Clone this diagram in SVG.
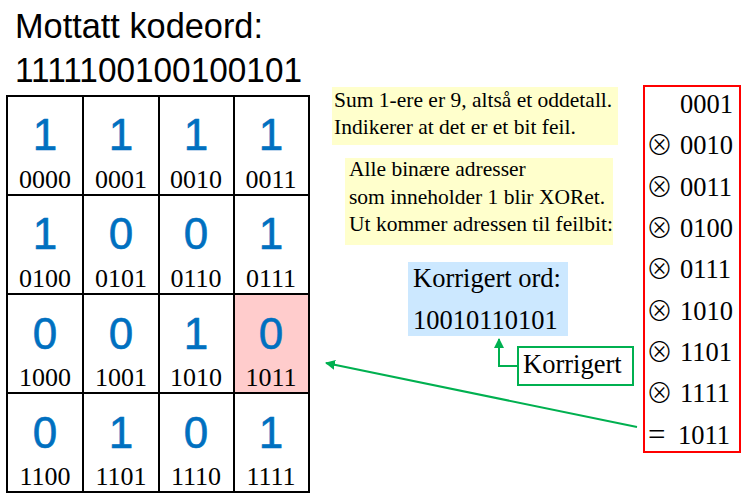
<svg xmlns="http://www.w3.org/2000/svg" width="748" height="497" viewBox="0 0 748 497">
<style>
.title{font-family:"Liberation Sans",Arial,sans-serif;font-size:35px;fill:#000}
.bit{font-family:"Liberation Sans",Arial,sans-serif;font-size:44px;fill:#0070C0;stroke:#0070C0;stroke-width:0.6;text-anchor:middle}
.addr{font-family:"Liberation Serif","Times New Roman",serif;font-size:26px;fill:#000;text-anchor:middle}
.note{font-family:"Liberation Serif","Times New Roman",serif;font-size:21.5px;fill:#000}
.big{font-family:"Liberation Serif","Times New Roman",serif;font-size:26.5px;fill:#000}
.op{font-family:"Noto Sans CJK JP","DejaVu Sans",sans-serif;font-size:27px;font-weight:300;fill:#000}
.eq{font-family:"Liberation Serif","Times New Roman",serif;font-size:31px;fill:#000}
.grid{fill:none;stroke:#000;stroke-width:2}
.conn{fill:none;stroke:#00B050;stroke-width:2}
</style>
<defs>
<marker id="arr" viewBox="0 0 10 10" refX="9" refY="5" markerWidth="5" markerHeight="5" orient="auto-start-reverse">
<path d="M0,0 L10,5 L0,10 z" fill="#00B050"/>
</marker>
</defs>
<g id="title">
<text class="title" x="15" y="38" textLength="248" lengthAdjust="spacingAndGlyphs">Mottatt kodeord:</text>
<text class="title" x="15" y="82" textLength="287" lengthAdjust="spacingAndGlyphs">1111100100100101</text>
</g>
<g id="grid">
<rect x="234" y="294" width="75" height="99" fill="#FFCCCC"/>
<rect class="grid" x="7" y="96" width="302" height="396"/>
<path class="grid" d="M83,96V492M159,96V492M234,96V492M7,195H309M7,294H309M7,393H309"/>
<g id="row1">
<text class="bit" x="45" y="150">1</text><text class="addr" x="45" y="188">0000</text>
<text class="bit" x="121" y="150">1</text><text class="addr" x="121" y="188">0001</text>
<text class="bit" x="196" y="150">1</text><text class="addr" x="196" y="188">0010</text>
<text class="bit" x="271" y="150">1</text><text class="addr" x="271" y="188">0011</text>
</g>
<g id="row2">
<text class="bit" x="45" y="249">1</text><text class="addr" x="45" y="287">0100</text>
<text class="bit" x="121" y="249">0</text><text class="addr" x="121" y="287">0101</text>
<text class="bit" x="196" y="249">0</text><text class="addr" x="196" y="287">0110</text>
<text class="bit" x="271" y="249">1</text><text class="addr" x="271" y="287">0111</text>
</g>
<g id="row3">
<text class="bit" x="45" y="349">0</text><text class="addr" x="45" y="386">1000</text>
<text class="bit" x="121" y="349">0</text><text class="addr" x="121" y="386">1001</text>
<text class="bit" x="196" y="349">1</text><text class="addr" x="196" y="386">1010</text>
<text class="bit" x="271" y="349">0</text><text class="addr" x="271" y="386">1011</text>
</g>
<g id="row4">
<text class="bit" x="45" y="448">0</text><text class="addr" x="45" y="485">1100</text>
<text class="bit" x="121" y="448">1</text><text class="addr" x="121" y="485">1101</text>
<text class="bit" x="196" y="448">0</text><text class="addr" x="196" y="485">1110</text>
<text class="bit" x="271" y="448">1</text><text class="addr" x="271" y="485">1111</text>
</g>
</g>
<g id="note1">
<rect x="332" y="87" width="286" height="58" fill="#FFFFCC"/>
<text class="note" x="334" y="107">Sum 1-ere er 9, altså et oddetall.</text>
<text class="note" x="334" y="134">Indikerer at det er et bit feil.</text>
</g>
<g id="note2">
<rect x="345" y="158" width="268" height="87" fill="#FFFFCC"/>
<text class="note" x="349" y="176">Alle binære adresser</text>
<text class="note" x="349" y="204">som inneholder 1 blir XORet.</text>
<text class="note" x="349" y="231">Ut kommer adressen til feilbit:</text>
</g>
<g id="corrected">
<rect x="408" y="262" width="160" height="74" fill="#CCE8FF"/>
<text class="big" x="413" y="287">Korrigert ord:</text>
<text class="big" x="413" y="329">10010110101</text>
</g>
<g id="korrigert-label">
<rect x="518" y="347" width="115" height="38" fill="#fff" stroke="#00B050" stroke-width="2"/>
<text class="big" x="523" y="373">Korrigert</text>
</g>
<g id="xor">
<rect x="644" y="86" width="96" height="366" fill="#fff" stroke="#FF0000" stroke-width="2"/>
<text class="big" x="680" y="113">0001</text>
<text class="op" x="646" y="155">⊗</text><text class="big" x="680" y="154">0010</text>
<text class="op" x="646" y="197">⊗</text><text class="big" x="680" y="196">0011</text>
<text class="op" x="646" y="238">⊗</text><text class="big" x="680" y="237">0100</text>
<text class="op" x="646" y="279">⊗</text><text class="big" x="680" y="278">0111</text>
<text class="op" x="646" y="321">⊗</text><text class="big" x="680" y="320">1010</text>
<text class="op" x="646" y="362">⊗</text><text class="big" x="680" y="361">1101</text>
<text class="op" x="646" y="403">⊗</text><text class="big" x="680" y="402">1111</text>
<text class="eq" x="648" y="445">=</text><text class="big" x="678" y="444">1011</text>
</g>
<g id="connectors">
<path class="conn" d="M518,366H499V339" marker-end="url(#arr)"/>
<path class="conn" d="M637,427L326,363" marker-end="url(#arr)"/>
</g>
</svg>
